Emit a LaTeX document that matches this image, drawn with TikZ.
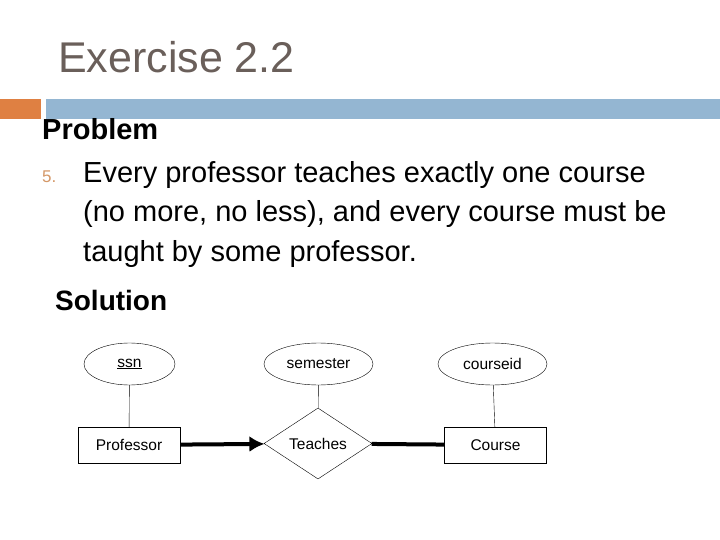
\documentclass[tikz,border=0pt]{standalone}
\usepackage{fontspec}
\setmainfont{Liberation Sans}
\usepackage{tikz}
\usetikzlibrary{shapes.geometric}
\usetikzlibrary{arrows.meta}
\definecolor{titlegray}{RGB}{106,95,90}
\definecolor{barorange}{RGB}{223,128,66}
\definecolor{barblue}{RGB}{148,182,210}
\definecolor{numtan}{RGB}{212,152,104}
\newcommand{\erfont}{\fontsize{15.5}{18}\selectfont}

\begin{document}
\begin{tikzpicture}[x=1pt, y=-1pt,
        entity/.style={draw, rectangle, minimum width=102pt, minimum height=36pt, inner sep=0pt, font=\erfont},
        attribute/.style={draw, ellipse, minimum width=91pt, minimum height=42pt, inner sep=0pt, font=\erfont},
        relationship/.style={draw, diamond, minimum width=108pt, minimum height=71pt, inner sep=0pt, font=\erfont},
        bodytext/.style={anchor=base west, inner sep=0pt, font=\fontsize{29}{34}\selectfont}]
            \useasboundingbox (0,0) rectangle (720,540);

            \fill [barorange] (0,99) rectangle (41,119);
            \fill [barblue] (46,99) rectangle (720,119);

            \node (title) [anchor=base west, inner sep=0pt, text=titlegray, font=\fontsize{43}{50}\selectfont] at (58,73) {Exercise 2.2};
            \node (problem head) [anchor=base west, inner sep=0pt, font=\fontsize{29}{34}\selectfont\bfseries] at (42,140) {Problem};
            \node (item number) [anchor=base west, inner sep=0pt, text=numtan, font=\fontsize{17}{20}\selectfont] at (42,183) {5.};
            \node (line one) [bodytext] at (83,183) {Every professor teaches exactly one course};
            \node (line two) [bodytext] at (83,222) {(no more, no less), and every course must be};
            \node (line three) [bodytext] at (83,261) {taught by some professor.};
            \node (solution head) [anchor=base west, inner sep=0pt, font=\fontsize{28}{34}\selectfont\bfseries] at (55,310) {Solution};

            \node (ssn) [attribute] at (129.5,364) {\underline{ssn}};
            \node (semester) [attribute, minimum width=109pt] at (318.5,364) {semester};
            \node (courseid) [attribute, minimum width=109pt] at (492.5,364) {courseid};

            \node (professor) [entity] at (129,445) {Professor};
            \node (teaches) [relationship] at (318,443.5) {Teaches};
            \node (course) [entity] at (495.5,445) {Course};

            \draw (ssn) -- (professor);
            \draw (semester) -- (teaches);
            \draw (courseid) -- (course);

            \draw [line width=4pt, -{Latex[length=15pt, width=16pt]}] (professor) -- (teaches);
            \draw [line width=4pt] (teaches) -- (course);
        \end{tikzpicture}
\end{document}
